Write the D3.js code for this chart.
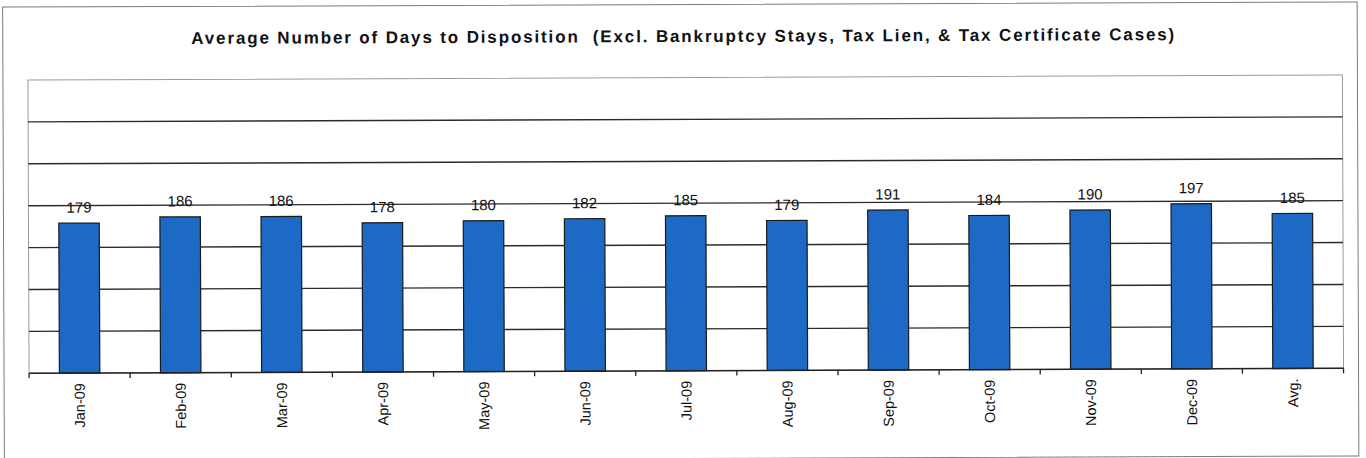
<!DOCTYPE html>
<html>
<head>
<meta charset="utf-8">
<script src="https://cdn.jsdelivr.net/npm/d3@7"></script>
<style>
  html, body { margin: 0; padding: 0; background: #ffffff; }
  svg { display: block; }
</style>
</head>
<body>
<svg id="chart" width="1366" height="458"></svg>
<script>
const titleText = "Average Number of Days to Disposition  (Excl. Bankruptcy Stays, Tax Lien, & Tax Certificate Cases)";
const categories = ["Jan-09","Feb-09","Mar-09","Apr-09","May-09","Jun-09","Jul-09","Aug-09","Sep-09","Oct-09","Nov-09","Dec-09","Avg."];
const days = [179,186,186,178,180,182,185,179,191,184,190,197,185];
const yMax = 350;
const gridValues = [50,100,150,200,250,300];

const W = 1366, H = 458;
const plot = { left: 28.5, right: 1343, top: 77.5, bottom: 370.8 };

const svg = d3.select("#chart");
const root = svg.append("g").attr("transform", "rotate(-0.22, 683, 229)");

// outer chart border
root.append("rect")
  .attr("x", 3.5).attr("y", 4.5)
  .attr("width", 1354.5).attr("height", 454)
  .attr("fill", "none").attr("stroke", "#7a7a7a").attr("stroke-width", 1);

// title
root.append("text")
  .attr("x", 683.5).attr("y", 42)
  .attr("text-anchor", "middle")
  .attr("font-family", "'Liberation Sans', Arial, sans-serif")
  .attr("font-weight", "bold")
  .attr("font-size", 17)
  .attr("fill", "#111")
  .attr("textLength", 983)
  .attr("lengthAdjust", "spacing")
  .style("white-space", "pre")
  .text(titleText);

const x = d3.scaleBand()
  .domain(categories)
  .range([plot.left, plot.right])
  .paddingInner(0.6)
  .paddingOuter(0.3);

const y = d3.scaleLinear()
  .domain([0, yMax])
  .range([plot.bottom, plot.top]);

// plot area border (grey)
root.append("rect")
  .attr("x", plot.left).attr("y", plot.top)
  .attr("width", plot.right - plot.left).attr("height", plot.bottom - plot.top)
  .attr("fill", "none").attr("stroke", "#9a9a9a").attr("stroke-width", 1);

// gridlines
root.append("g")
  .selectAll("line")
  .data(gridValues)
  .join("line")
  .attr("x1", plot.left).attr("x2", plot.right)
  .attr("y1", d => y(d)).attr("y2", d => y(d))
  .attr("stroke", "#2b2b2b").attr("stroke-width", 1.4);

// bars
root.append("g")
  .selectAll("rect")
  .data(days)
  .join("rect")
  .attr("x", (d, i) => x(categories[i]))
  .attr("width", x.bandwidth())
  .attr("y", d => y(d))
  .attr("height", d => y(0) - y(d))
  .attr("fill", "#1c6ac6")
  .attr("stroke", "#1a1a1a")
  .attr("stroke-width", 1.2);

// value labels
root.append("g")
  .selectAll("text")
  .data(days)
  .join("text")
  .attr("x", (d, i) => x(categories[i]) + x.bandwidth() / 2)
  .attr("y", d => y(d) - 10.5)
  .attr("text-anchor", "middle")
  .attr("font-family", "'Liberation Sans', Arial, sans-serif")
  .attr("font-size", 15)
  .attr("fill", "#111")
  .text(d => d);

// x axis
const step = x.step();
const xAxis = d3.axisBottom(x).tickSize(0).tickPadding(0);
const axisG = root.append("g")
  .attr("transform", `translate(0, ${plot.bottom})`)
  .call(xAxis);
axisG.select(".domain").attr("stroke", "#222").attr("stroke-width", 1.5)
  .attr("d", `M${plot.left},0H${plot.right}`);
axisG.selectAll(".tick text")
  .attr("font-family", "'Liberation Sans', Arial, sans-serif")
  .attr("font-size", 14.5)
  .attr("fill", "#111")
  .attr("text-anchor", "end")
  .attr("transform", "rotate(-90)")
  .attr("x", -10)
  .attr("y", 0)
  .attr("dy", "0.35em");

// tick marks at category boundaries
const boundaries = d3.range(categories.length + 1);
axisG.append("g")
  .selectAll("line")
  .data(boundaries)
  .join("line")
  .attr("x1", i => plot.left + i * step).attr("x2", i => plot.left + i * step)
  .attr("y1", 0).attr("y2", 5)
  .attr("stroke", "#222").attr("stroke-width", 1.3);
</script>
</body>
</html>
